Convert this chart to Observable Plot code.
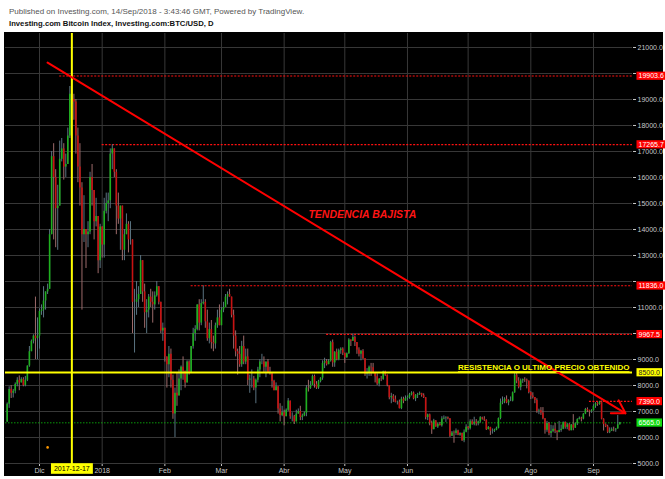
<!DOCTYPE html>
<html><head><meta charset="utf-8">
<script src="https://cdn.jsdelivr.net/npm/d3@7"></script>
<script src="https://cdn.jsdelivr.net/npm/@observablehq/plot@0.6"></script>
<style>
html,body{margin:0;padding:0;background:#fff;width:665px;height:479px;overflow:hidden;font-family:"Liberation Sans",Arial,sans-serif;}
#h1{position:absolute;left:9px;top:7px;font-size:8px;line-height:10px;color:#555;white-space:nowrap;}
#h2{position:absolute;left:9px;top:19px;font-size:7.7px;line-height:10px;font-weight:bold;color:#111;white-space:nowrap;}
#chart{position:absolute;left:4px;top:32px;}
</style></head><body>
<div id="h1">Published on Investing.com, 14/Sep/2018 - 3:43:46 GMT, Powered by TradingView.</div>
<div id="h2">Investing.com Bitcoin Index, Investing.com:BTC/USD, D</div>
<div id="chart"></div>
<script>
// daily candles [high, low, close]; open = previous close
const firstDay = "2017-11-15";
const firstOpen = 6600;
const nov17 = [[7330,6580,7280],[7950,7120,7850],[8000,7500,7700],[7850,7520,7780],[8100,7680,8040],[8300,7950,8200],[8370,7800,8100],[8300,8100,8230],[8300,7950,8000],[8350,7950,8200],[8750,8150,8750],[9500,8700,9300],[9750,9300,9700],[9950,9600,9900],[11400,9000,9800],[10600,9000,9900]];
const dec17 = [[10950,9400,10850],[11100,10700,10900],[11800,10600,11250],[11600,10900,11600],[11900,11500,11700],[14000,11700,13800],[17000,13800,16800],[17300,13600,16000],[16300,13300,14800],[15700,13200,14900],[17400,14900,16700],[17500,16600,17100],[17300,15900,16400],[16900,16000,16500],[17900,16500,17600],[19500,17500,19200],[19903.6,18800,19000],[19200,18200,18900],[19000,16900,17600],[17900,15800,16400],[17300,14900,15600],[15800,10900,13800],[15300,13500,14000],[14000,12500,13800],[14300,13300,13900],[16200,13800,16000],[16500,14900,15500],[15500,13600,14300],[15200,14100,14500],[14500,12300,12800],[14200,12500,14100]];
const jan18 = [[14100,12900,13400],[15200,12900,14700],[15400,14600,15000],[15400,14300,15100],[17100,14800,16900],[17265.7,16300,17100],[17100,16000,16200],[16300,13800,14900],[15400,14200,14400],[14900,13200,14900],[14900,12800,13200],[14000,12800,13800],[14600,13800,14200],[14300,13100,13600],[14300,13400,13600],[13600,10000,11200],[11700,9250,11200],[12000,10700,11300],[11800,11000,11500],[13000,11500,12800],[12800,11200,11600],[11900,10200,10800],[11300,10000,10900],[11500,10600,11400],[11700,11000,11200],[11600,10400,11100],[11600,10900,11450],[12000,11400,11800],[11800,11100,11200],[11200,10000,10100],[10400,9700,10200]];
const feb18 = [[10200,8900,9100],[9100,7900,8800],[9500,8300,9200],[9400,7900,8200],[8400,6700,6900],[7900,6000,7700],[8500,7200,7600],[8600,7600,8250],[8750,7800,8700],[9100,8200,8550],[8550,7900,8100],[8950,8100,8900],[8950,8400,8500],[9500,8500,9500],[10200,9400,10000],[10300,9700,10150],[11100,10100,11100],[11300,10100,10400],[11300,10300,11150],[11836,11100,11200],[11300,10200,10450],[10900,9700,9800],[10400,9600,10150],[10500,9400,9650],[9900,9300,9600],[10400,9400,10300],[10900,10200,10600],[11100,10300,10300]];
const mar18 = [[11000,10300,10900],[11200,10800,11000],[11500,11000,11400],[11600,11100,11500],[11700,11400,11400],[11400,10600,10700],[10900,9400,9900],[10100,9100,9300],[9400,8400,9200],[9500,8700,8800],[9700,8700,9500],[9900,8800,8900],[9400,8800,9100],[9400,8000,8200],[8400,7700,8250],[8600,7900,8250],[8350,7800,7900],[8250,7300,8200],[8700,8100,8600],[9000,8300,8900],[9200,8800,8900],[9100,8500,8700],[8900,8300,8900],[9000,8500,8500],[8700,8400,8450],[8500,7900,8150],[8200,7800,7800],[8100,7800,7950],[7950,6900,7100],[7300,6600,6850],[7200,6800,6950]];
const apr18 = [[7050,6450,6800],[7100,6800,7050],[7500,7000,7400],[7400,6700,6800],[6950,6600,6800],[6850,6500,6600],[7050,6600,6900],[7100,6900,7000],[7200,6650,6770],[6900,6650,6830],[6980,6800,6940],[8000,6800,7900],[8200,7750,7890],[8150,7850,8000],[8400,8000,8350],[8400,7900,8050],[8150,7850,7900],[8200,7850,8150],[8300,8100,8280],[8950,8200,8850],[9050,8650,8930],[9000,8750,8800],[9000,8800,8940],[9700,8900,9650],[9750,8700,8870],[9300,8700,9280],[9400,8950,8990],[9400,8950,9340],[9450,9200,9400],[9450,9150,9240]];
const may18 = [[9240,8850,9070],[9250,9050,9220],[9800,9200,9750],[9750,9500,9700],[9967.5,9700,9850],[9900,9500,9650],[9650,9200,9370],[9450,9100,9200],[9350,8950,9320],[9380,9000,9030],[9030,8350,8430],[8650,8250,8480],[8750,8350,8700],[8850,8350,8680],[8850,8450,8480],[8480,8100,8340],[8450,8000,8060],[8270,7950,8240],[8350,8150,8230],[8550,8200,8530],[8550,8350,8400],[8400,7950,8000],[8000,7450,7530],[7700,7300,7580],[7650,7350,7470],[7600,7330,7350],[7400,7250,7360],[7440,7100,7110],[7550,7070,7470],[7550,7300,7400],[7600,7390,7500]];
const jun18 = [[7600,7400,7530],[7700,7470,7640],[7760,7600,7710],[7750,7450,7490],[7650,7380,7620],[7700,7500,7650],[7750,7620,7690],[7700,7550,7620],[7680,7500,7530],[7530,6680,6770],[6900,6650,6870],[6900,6450,6550],[6630,6120,6300],[6700,6300,6640],[6650,6400,6400],[6550,6350,6500],[6580,6450,6450],[6800,6400,6710],[6830,6680,6740],[6800,6580,6760],[6790,6680,6720],[6720,6000,6050],[6230,6040,6170],[6250,5780,6150],[6330,6080,6250],[6280,6070,6090],[6180,6050,6150],[6170,5850,5880],[6290,5800,6200],[6490,6180,6390]];
const jul18 = [[6420,6280,6350],[6680,6290,6610],[6680,6470,6510],[6780,6450,6590],[6690,6440,6530],[6630,6450,6600],[6800,6550,6760],[6780,6670,6710],[6800,6620,6660],[6680,6270,6300],[6420,6300,6390],[6390,6080,6240],[6330,6130,6240],[6320,6190,6280],[6400,6260,6350],[6750,6330,6730],[7480,6680,7320],[7560,7260,7380],[7530,7300,7470],[7600,7300,7330],[7450,7220,7400],[7560,7380,7400],[7750,7370,7720],[8480,7700,8400],[8480,8070,8170],[8300,7870,7930],[8250,7800,8180],[8250,8080,8230],[8300,8120,8210],[8250,7870,8170],[8170,7680,7730]];
const aug18 = [[7760,7460,7600],[7720,7480,7540],[7540,7300,7420],[7490,6930,7010],[7090,6880,7030],[7150,6850,6940],[7150,6680,6720],[6720,6130,6280],[6620,6200,6540],[6580,6070,6150],[6470,6000,6230],[6450,6180,6320],[6540,6150,6250],[6250,5880,6190],[6620,6180,6270],[6480,6200,6320],[6600,6300,6580],[6600,6320,6390],[6540,6300,6490],[6540,6250,6260],[6500,6260,6480],[6880,6260,6360],[6560,6350,6530],[6720,6460,6690],[6790,6680,6740],[6780,6600,6710],[6920,6680,6900],[7120,6880,7080],[7140,6960,7030],[7050,6790,6990],[7070,6930,7030]];
const sep18 = [[7260,7020,7200],[7340,7120,7300],[7340,7200,7270],[7390,7240,7370],[7400,6680,6700],[6720,6250,6500],[6520,6380,6410],[6470,6150,6200],[6370,6150,6250],[6370,6230,6300],[6400,6220,6290],[6340,6200,6330],[6850,6320,6490],[6580,6480,6565]];

// annotations
const yTicks = [5000,6000,7000,8000,9000,10000,11000,12000,13000,14000,15000,16000,17000,18000,19000,20000,21000];
const yTicksCovered = [10000, 12000, 20000]; // tick labels hidden behind price boxes
const monthTicks = ["2017-12-01","2018-01-01","2018-02-01","2018-03-01","2018-04-01","2018-05-01","2018-06-01","2018-07-01","2018-08-01","2018-09-01"];
const monthLabels = ["Dic","2018","Feb","Mar","Abr","May","Jun","Jul","Ago","Sep"];
const levelValues = [19903.6, 17265.7, 11836.0, 9967.5, 7390.0];
const levelStarts = ["2017-12-11","2018-01-01","2018-02-14","2018-04-22","2018-08-30"];
const resistance = 8500;
const lastPrice = 6565;
const markedDay = "2017-12-17";
const trendFrom = ["2017-12-05", 20420];
const trendTo = ["2018-09-16T20:00", 6930];
const trendText = ["2018-04-13", 14580, "TENDENCIA BAJISTA"];
const resistText = [8690, "RESISTENCIA O ULTIMO PRECIO OBTENIDO"];
const eventMarks = [["2017-12-05", 5620]];

const xDomain = [new Date("2017-11-14T04:20Z"), new Date("2018-09-20T07:00Z")];
const yDomain = [4962, 21538];

const months = [nov17, dec17, jan18, feb18, mar18, apr18, may18, jun18, jul18, aug18, sep18];
const rows = [];
{
  let prev = firstOpen, t = new Date(firstDay + "T00:00Z").getTime();
  for (const m of months) for (const [h, l, c] of m) {
    rows.push({date: new Date(t), open: prev, high: h, low: l, close: c});
    prev = c; t += 864e5;
  }
}
const D = s => new Date(s.length > 10 ? s + "Z" : s + "T00:00Z");
const levels = levelValues.map((v, i) => ({v, start: D(levelStarts[i])}));
const tickDates = monthTicks.map(D);
const labelMap = new Map(tickDates.map((d, i) => [+d, monthLabels[i]]));
const yLabelTicks = yTicks.filter(v => !yTicksCovered.includes(v));

const boxes = [
  {v: 19903.6, bg: "#ff0000", fg: "#ffffff"},
  {v: 17265.7, bg: "#ff0000", fg: "#ffffff"},
  {v: 11836.0, bg: "#ff0000", fg: "#ffffff"},
  {v: 9967.5, bg: "#ff0000", fg: "#ffffff"},
  {v: resistance, bg: "#ffff00", fg: "#222222"},
  {v: 7390.0, bg: "#ff0000", fg: "#ffffff"},
  {v: lastPrice, bg: "#11dd11", fg: "#ffffff"}
];
const boxMap = new Map(boxes.map(b => [b.v.toFixed(1), b.bg]));
boxMap.set(markedDay, "#ffff00");

const up = d => d.close >= d.open;
const plot = Plot.plot({
  width: 659, height: 444,
  marginLeft: 1, marginRight: 31, marginTop: 1, marginBottom: 12,
  style: {background: "#000", fontFamily: "Liberation Sans, Arial, sans-serif", overflow: "visible"},
  x: {type: "utc", domain: xDomain},
  y: {domain: yDomain},
  color: {type: "identity"},
  marks: [
    Plot.gridY(yTicks, {stroke: "#383838", strokeOpacity: 1}),
    Plot.gridX(tickDates, {stroke: "#383838", strokeOpacity: 1}),
    Plot.ruleY([lastPrice], {stroke: "#0a9a0a", strokeDasharray: "1.5,1.5", strokeWidth: 1}),
    Plot.ruleY(levels, {y: "v", x1: "start", x2: () => xDomain[1], stroke: "#ff1010", strokeDasharray: "2,1.5", strokeWidth: 1.2}),
    Plot.ruleX(rows, {x: "date", y1: "low", y2: "high", stroke: d => up(d) ? "#5a7380" : "#9c6a6a", strokeWidth: 1}),
    Plot.ruleX(rows, {x: "date", y1: "open", y2: "close", stroke: d => up(d) ? "#1fb01f" : "#c81212", strokeWidth: 1.6}),
    Plot.ruleY([resistance], {stroke: "#ffff00", strokeWidth: 2}),
    Plot.ruleX([D(markedDay)], {stroke: "#ffff00", strokeWidth: 2}),
    Plot.arrow([0], {x1: () => D(trendFrom[0]), y1: () => trendFrom[1], x2: () => D(trendTo[0]), y2: () => trendTo[1], stroke: "#ff0000", strokeWidth: 2, headLength: 11, headAngle: 62}),
    Plot.text([trendText], {x: d => D(d[0]), y: d => d[1], text: d => d[2], textAnchor: "start", fill: "#ff1414", fontSize: 10.5, fontWeight: "bold", fontStyle: "italic"}),
    Plot.text([resistText], {y: d => d[0], text: d => d[1], frameAnchor: "right", textAnchor: "end", dx: -3, fill: "#ffff00", fontSize: 8, fontWeight: "bold"}),
    Plot.dot(eventMarks, {x: d => D(d[0]), y: d => d[1], r: 1.3, fill: "#ff9900"}),
    Plot.axisY({anchor: "right", ticks: yTicks, tickFormat: null, text: null, tickSize: 3, color: "#c8c8c8", label: null, line: true}),
    Plot.axisY({anchor: "right", ticks: yLabelTicks, tickFormat: d => d.toFixed(1), tickSize: 0, tickPadding: 5, fontSize: 7, color: "#c8c8c8", label: null}),
    Plot.axisX({anchor: "bottom", ticks: tickDates, tickFormat: d => labelMap.get(+d), tickSize: 2, tickPadding: 2, fontSize: 7, color: "#c8c8c8", label: null, line: true}),
    Plot.text(boxes, {y: "v", text: d => d.v.toFixed(1), frameAnchor: "right", dx: 6, textAnchor: "start", fill: "fg", fontSize: 7}),
    Plot.text([markedDay], {x: d => D(d), text: d => d, frameAnchor: "bottom", dy: 6.5, fill: "#000", fontSize: 7})
  ]
});
document.getElementById("chart").append(plot);

// colored backgrounds behind highlighted labels, sized from the rendered text
plot.querySelectorAll("text").forEach(t => {
  const s = t.textContent;
  if (s === resistText[1]) t.setAttribute("text-decoration", "underline");
  const bg = boxMap.get(s);
  if (!bg) return;
  const al = t.parentNode.getAttribute("aria-label") || "";
  if (al.includes("axis")) return;
  const b = t.getBBox();
  const isDate = s === markedDay;
  const px = isDate ? 3 : 2, py = isDate ? 1.8 : 0.6;
  const r = document.createElementNS("http://www.w3.org/2000/svg", "rect");
  r.setAttribute("x", b.x - px); r.setAttribute("y", b.y - py);
  r.setAttribute("width", b.width + 2 * px); r.setAttribute("height", b.height + 2 * py);
  r.setAttribute("fill", bg);
  if (t.getAttribute("transform")) r.setAttribute("transform", t.getAttribute("transform"));
  t.parentNode.insertBefore(r, t);
});
</script>
</body></html>
